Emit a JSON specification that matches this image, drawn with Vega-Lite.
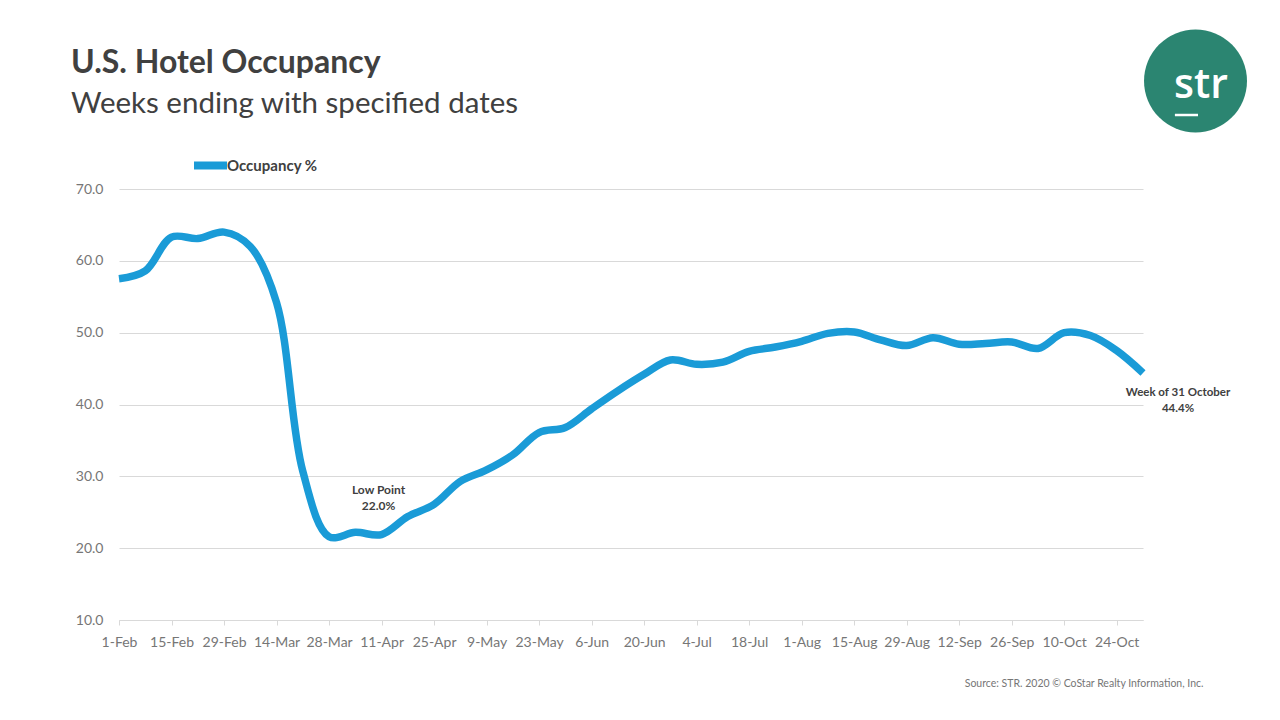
{
  "$schema": "https://vega.github.io/schema/vega-lite/v6.json",
  "width": 1024,
  "height": 431,
  "autosize": {"type": "none"},
  "padding": {"left": 119, "top": 189, "right": 137, "bottom": 100},
  "background": "white",
  "config": {"view": {"stroke": null}, "font": "Lato"},
  "title": {
    "text": "U.S. Hotel Occupancy",
    "subtitle": "Weeks ending with specified dates",
    "anchor": "start",
    "frame": "group",
    "dx": -48,
    "dy": 130,
    "offset": 40,
    "font": "Lato",
    "fontSize": 32,
    "fontWeight": "bold",
    "color": "#404040",
    "subtitleFont": "Lato",
    "subtitleFontSize": 29.5,
    "subtitleColor": "#404040",
    "subtitlePadding": 10
  },
  "layer": [
    {
      "data": {
        "values": [
          {"date": "2020-02-01", "value": 57.5},
          {"date": "2020-02-08", "value": 58.6},
          {"date": "2020-02-15", "value": 63.3},
          {"date": "2020-02-22", "value": 63.1},
          {"date": "2020-02-29", "value": 64.0},
          {"date": "2020-03-07", "value": 62.0},
          {"date": "2020-03-14", "value": 54.2},
          {"date": "2020-03-21", "value": 30.7},
          {"date": "2020-03-28", "value": 21.6},
          {"date": "2020-04-04", "value": 22.2},
          {"date": "2020-04-11", "value": 21.9},
          {"date": "2020-04-18", "value": 24.4},
          {"date": "2020-04-25", "value": 26.1},
          {"date": "2020-05-02", "value": 29.3},
          {"date": "2020-05-09", "value": 30.9},
          {"date": "2020-05-16", "value": 33.0},
          {"date": "2020-05-23", "value": 36.1},
          {"date": "2020-05-30", "value": 36.8},
          {"date": "2020-06-06", "value": 39.4},
          {"date": "2020-06-13", "value": 41.9},
          {"date": "2020-06-20", "value": 44.2},
          {"date": "2020-06-27", "value": 46.2},
          {"date": "2020-07-04", "value": 45.6},
          {"date": "2020-07-11", "value": 45.9},
          {"date": "2020-07-18", "value": 47.4},
          {"date": "2020-07-25", "value": 48.0},
          {"date": "2020-08-01", "value": 48.8},
          {"date": "2020-08-08", "value": 49.9},
          {"date": "2020-08-15", "value": 50.1},
          {"date": "2020-08-22", "value": 49.0},
          {"date": "2020-08-29", "value": 48.2},
          {"date": "2020-09-05", "value": 49.3},
          {"date": "2020-09-12", "value": 48.4},
          {"date": "2020-09-19", "value": 48.5},
          {"date": "2020-09-26", "value": 48.7},
          {"date": "2020-10-03", "value": 47.8},
          {"date": "2020-10-10", "value": 50.0},
          {"date": "2020-10-17", "value": 49.6},
          {"date": "2020-10-24", "value": 47.5},
          {"date": "2020-10-31", "value": 44.4}
        ]
      },
      "mark": {"type": "line", "interpolate": "catmull-rom", "strokeWidth": 7.5},
      "encoding": {
        "x": {
          "field": "date",
          "type": "temporal",
          "scale": {
            "type": "utc",
            "nice": false,
            "domain": [
              {"year": 2020, "month": 2, "date": 1, "utc": true},
              {"year": 2020, "month": 10, "date": 31, "utc": true}
            ]
          },
          "axis": {
            "values": [
              {"year": 2020, "month": 2, "date": 1, "utc": true},
              {"year": 2020, "month": 2, "date": 15, "utc": true},
              {"year": 2020, "month": 2, "date": 29, "utc": true},
              {"year": 2020, "month": 3, "date": 14, "utc": true},
              {"year": 2020, "month": 3, "date": 28, "utc": true},
              {"year": 2020, "month": 4, "date": 11, "utc": true},
              {"year": 2020, "month": 4, "date": 25, "utc": true},
              {"year": 2020, "month": 5, "date": 9, "utc": true},
              {"year": 2020, "month": 5, "date": 23, "utc": true},
              {"year": 2020, "month": 6, "date": 6, "utc": true},
              {"year": 2020, "month": 6, "date": 20, "utc": true},
              {"year": 2020, "month": 7, "date": 4, "utc": true},
              {"year": 2020, "month": 7, "date": 18, "utc": true},
              {"year": 2020, "month": 8, "date": 1, "utc": true},
              {"year": 2020, "month": 8, "date": 15, "utc": true},
              {"year": 2020, "month": 8, "date": 29, "utc": true},
              {"year": 2020, "month": 9, "date": 12, "utc": true},
              {"year": 2020, "month": 9, "date": 26, "utc": true},
              {"year": 2020, "month": 10, "date": 10, "utc": true},
              {"year": 2020, "month": 10, "date": 24, "utc": true}
            ],
            "format": "%-d-%b",
            "labelAngle": 0,
            "labelOverlap": false,
            "labelFlush": false,
            "labelFontSize": 14,
            "labelColor": "#767676",
            "labelPadding": 10,
            "tickColor": "#d9d9d9",
            "tickSize": 5,
            "domainColor": "#d9d9d9",
            "grid": false,
            "title": "Source: STR. 2020 © CoStar Realty Information, Inc.",
            "titleX": 1084,
            "titleY": 63,
            "titleAlign": "right",
            "titleBaseline": "middle",
            "titleFontSize": 10.5,
            "titleFontWeight": "normal",
            "titleColor": "#767676"
          }
        },
        "y": {
          "field": "value",
          "type": "quantitative",
          "scale": {"domain": [10, 70], "nice": false, "zero": false},
          "axis": {
            "values": [10, 20, 30, 40, 50, 60, 70],
            "format": ".1f",
            "grid": true,
            "gridColor": "#d9d9d9",
            "domain": false,
            "ticks": false,
            "labelFontSize": 14,
            "labelColor": "#767676",
            "labelPadding": 16,
            "title": null
          }
        },
        "color": {
          "datum": "Occupancy %",
          "type": "nominal",
          "scale": {"range": ["#1a9bd7"]},
          "legend": {
            "orient": "none",
            "legendX": 71,
            "legendY": -44,
            "title": null,
            "padding": 0,
            "symbolType": "stroke",
            "symbolStrokeWidth": 8,
            "symbolSize": 1089,
            "labelFont": "Lato",
            "labelFontSize": 15,
            "labelFontWeight": "bold",
            "labelColor": "#404040",
            "labelOffset": -4
          }
        }
      }
    },
    {
      "data": {"values": [{"date": "2020-04-11", "value": 21.9, "label": ["Low Point", "22.0%"]}]},
      "mark": {"type": "text", "fontWeight": "bold", "fontSize": 12, "color": "#404040", "align": "center", "baseline": "middle", "lineHeight": 16, "dx": -3, "dy": -45},
      "encoding": {
        "x": {"field": "date", "type": "temporal"},
        "y": {"field": "value", "type": "quantitative"},
        "text": {"field": "label"}
      }
    },
    {
      "data": {"values": [{"date": "2020-10-31", "value": 44.4, "label": ["Week of 31 October", "44.4%"]}]},
      "mark": {"type": "text", "fontWeight": "bold", "fontSize": 11.5, "color": "#404040", "align": "center", "baseline": "middle", "lineHeight": 16, "dx": 35, "dy": 20},
      "encoding": {
        "x": {"field": "date", "type": "temporal"},
        "y": {"field": "value", "type": "quantitative"},
        "text": {"field": "label"}
      }
    },
    {
      "data": {"values": [{}]},
      "mark": {"type": "point", "shape": "circle", "filled": true, "size": 10600, "color": "#2b8571", "opacity": 1},
      "encoding": {
        "x": {"datum": {"year": 2020, "month": 11, "date": 14, "utc": true}, "type": "temporal"},
        "y": {"datum": 85.04, "type": "quantitative"}
      }
    },
    {
      "data": {"values": [{}]},
      "mark": {"type": "text", "text": "str", "font": "Open Sans", "fontWeight": 600, "fontSize": 41, "color": "white", "align": "center", "baseline": "alphabetic"},
      "encoding": {
        "x": {"datum": {"year": 2020, "month": 11, "date": 15, "hours": 11, "utc": true}, "type": "temporal"},
        "y": {"datum": 82.67, "type": "quantitative"}
      }
    },
    {
      "data": {"values": [{}]},
      "mark": {"type": "rule", "color": "white", "strokeWidth": 2.5},
      "encoding": {
        "x": {"datum": {"year": 2020, "month": 11, "date": 8, "hours": 12, "utc": true}, "type": "temporal"},
        "x2": {"datum": {"year": 2020, "month": 11, "date": 14, "hours": 16, "utc": true}},
        "y": {"datum": 80.3, "type": "quantitative"}
      }
    }
  ]
}
